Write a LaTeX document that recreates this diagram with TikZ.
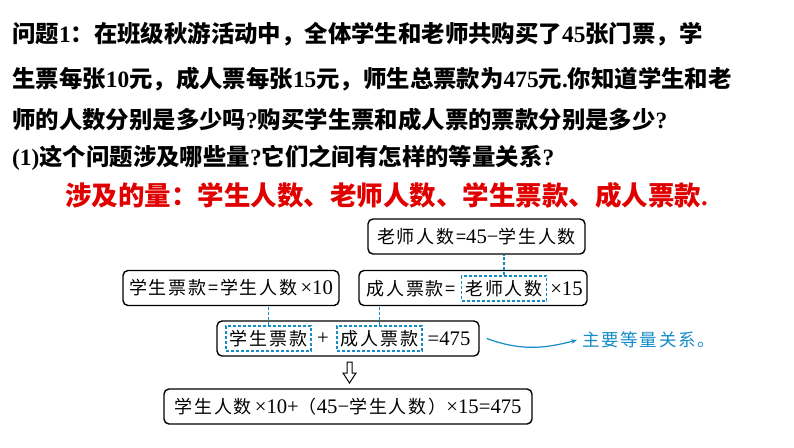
\documentclass[tikz,border=0pt]{standalone}
\usepackage{fontspec}
\setmainfont{Noto Sans CJK SC}
\newfontfamily\lat{Liberation Serif}
\newfontfamily\latk{Liberation Serif}[Scale=1.15]
\newfontfamily\kuang{Noto Sans CJK SC}[LetterSpace=10]
\usetikzlibrary{arrows.meta, calc, positioning}
\usepackage{xcolor}
\definecolor{lanse}{RGB}{20,140,200}
\definecolor{hongse}{RGB}{225,0,0}
\newcommand{\shu}[1]{{\lat #1}}
\newcommand{\kshu}[1]{{\latk #1}}

\begin{document}
\begin{tikzpicture}[x=1pt, y=-1pt,
    hang/.style={anchor=west, inner sep=0pt, font=\bfseries\fontsize{23.4}{26}\selectfont},
    kuangzi/.style={draw, line width=1.4pt, rounded corners=5pt, minimum height=35pt, inner sep=0pt, font=\kuang\fontsize{18}{20}\selectfont},
    zi/.style={inner sep=0pt, font=\kuang\fontsize{18}{20}\selectfont},
    xuxian/.style={draw=lanse, line width=1.2pt, dash pattern=on 3pt off 2pt, minimum height=25pt, minimum width=85pt, inner sep=0pt, font=\kuang\fontsize{18}{20}\selectfont},
    lianxian/.style={lanse, line width=1.2pt, dash pattern=on 3pt off 2pt}]
    % 背景
    \fill[white] (0,0) rectangle (794,447);
    \useasboundingbox (0,0) rectangle (794,447);

    % 题目
    \node[hang] (q1) at (12,34) {问题\shu{1}：在班级秋游活动中，全体学生和老师共购买了\shu{45}张门票，学};
    \node[hang] (q2) at (12,79) {生票每张\shu{10}元，成人票每张\shu{15}元，师生总票款为\shu{475}元\shu{.}你知道学生和老};
    \node[hang] (q3) at (12,120) {师的人数分别是多少吗\shu{?}购买学生票和成人票的票款分别是多少\shu{?}};
    \node[hang] (q4) at (12,158) {\shu{(1)}这个问题涉及哪些量\shu{?}它们之间有怎样的等量关系\shu{?}};

    % 涉及的量
    \node[hang, hongse, font=\bfseries\fontsize{26.5}{30}\selectfont] (liang) at (65,195) {涉及的量：学生人数、老师人数、学生票款、成人票款\shu{.}};

    % 老师人数
    \node[kuangzi, minimum width=217pt] (lsgs) at (476.5,236.5) {老师人数=\kshu{45−}学生人数};

    % 学生票款
    \node[kuangzi, minimum width=216pt] (xsgs) at (231,288) {学生票款=学生人数\,\kshu{×10}};

    % 成人票款
    \node[kuangzi, minimum width=228pt] (crgs) at (473,288) {};
    \node[xuxian] (lsrs) at (504,288.5) {老师人数};
    \node[zi, left=5pt of lsrs] (crt) {成人票款=};
    \node[zi, right=3pt of lsrs] (shiwu) {\kshu{×15}};

    % 等量关系
    \node[kuangzi, minimum width=262pt] (zong) at (348,338.5) {};
    \node[xuxian] (xspk) at (268.5,338.5) {学生票款};
    \node[zi] (jia) at (323,338.5) {\kshu{+}};
    \node[xuxian] (crpk) at (379.5,338.5) {成人票款};
    \node[zi] (deng) at (449,338.5) {\kshu{=475}};

    % 虚线
    \draw[lianxian] (lsrs.north) -- (lsrs.north |- lsgs.south);
    \draw[lianxian] (xspk.north) -- (xspk.north |- xsgs.south);
    \draw[lianxian] (crpk.north) -- (crpk.north |- crgs.south);

    % 空心箭头
    \coordinate (dao) at (349.5,362);
    \draw[line width=1pt, line join=miter] (dao) ++(-2.5,0) -- ++(5,0) -- ++(0,11) -- ++(4,0) -- ++(-6.5,10) -- ++(-6.5,-10) -- ++(4,0) -- cycle;

    % 方程
    \node[kuangzi, minimum width=368pt] (fangcheng) at (348,406.5) {学生人数\,\kshu{×10+}（\kshu{45−}学生人数）\kshu{×15=475}};

    % 主要等量关系
    \node[anchor=west, inner sep=0pt, text=lanse, font=\kuang\fontsize{17.5}{19}\selectfont] (zhuyao) at (582,340) {主要等量关系。};
    \draw[lanse, line width=1.2pt, -{Stealth[length=6pt]}] ([xshift=7pt]zong.east) to[out=-20, in=195] ([xshift=-5pt]zhuyao.west);
\end{tikzpicture}
\end{document}
